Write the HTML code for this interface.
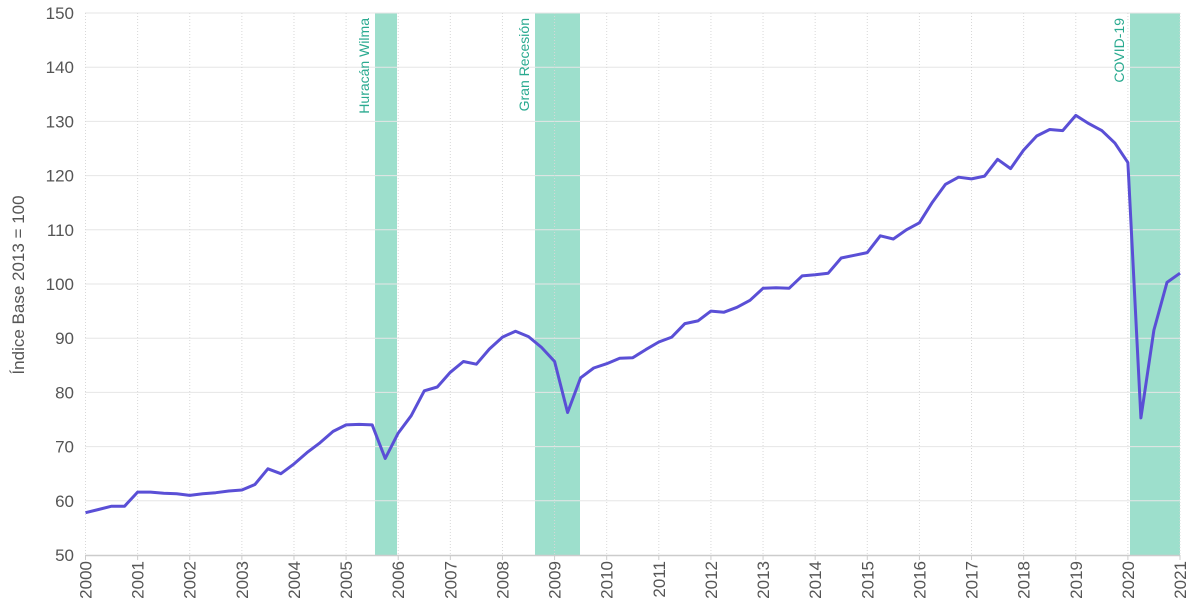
<!DOCTYPE html>
<html><head><meta charset="utf-8"><style>
html,body{margin:0;padding:0;background:#fff;width:1200px;height:616px;overflow:hidden}
svg text{font-family:"Liberation Sans",sans-serif}
</style></head><body>
<svg id="c" width="1200" height="616" xmlns="http://www.w3.org/2000/svg"></svg>
<script>
const s=document.getElementById('c');
const X=y=>85.5+(1180-85.5)*(y-2000)/21, Y=v=>555-(v-50)*5.42;
let h='';
[[375,397],[535,580],[1130,1180]].forEach(b=>h+=`<rect x="${b[0]}" y="13" width="${b[1]-b[0]}" height="542" fill="#9ddfcc"/>`);
for(let v=60;v<=150;v+=10)h+=`<line x1="85" x2="1180" y1="${Y(v)}" y2="${Y(v)}" stroke="#e6e6e6"/>`;
for(let yr=2000;yr<=2021;yr++)h+=`<line x1="${X(yr)}" x2="${X(yr)}" y1="13" y2="555" stroke="#d8d8d8" stroke-dasharray="1,2"/>`;
h+=`<line x1="85" x2="1180" y1="555.5" y2="555.5" stroke="#ccc" stroke-width="1.5"/>`;
for(let v=50;v<=150;v+=10)h+=`<text x="74" y="${Y(v)+6}" text-anchor="end" font-size="17" fill="#555">${v}</text>`;
for(let yr=2000;yr<=2021;yr++){const x=X(yr);h+=`<text transform="translate(${x+6},561) rotate(-90)" text-anchor="end" font-size="17" fill="#555">${yr}</text><line x1="${x}" x2="${x}" y1="555" y2="560" stroke="#ccc"/>`;}
h+=`<text transform="translate(24,285) rotate(-90)" text-anchor="middle" font-size="17" fill="#555">Índice Base 2013 = 100</text>`;
[["Huracán Wilma",369],["Gran Recesión",529],["COVID-19",1124]].forEach(t=>h+=`<text transform="translate(${t[1]},18) rotate(-90)" text-anchor="end" font-size="14" fill="#2aaa90">${t[0]}</text>`);
const d=[57.8,58.4,59,59,61.6,61.6,61.4,61.3,61,61.3,61.5,61.8,62,63,65.9,65,66.8,68.9,70.7,72.8,74,74.1,74,67.8,72.5,75.7,80.3,81,83.7,85.7,85.2,88,90.2,91.3,90.3,88.3,85.7,76.3,82.7,84.5,85.3,86.3,86.4,87.9,89.3,90.2,92.7,93.2,95,94.8,95.7,97,99.2,99.3,99.2,101.5,101.7,102,104.8,105.3,105.8,108.9,108.3,110,111.3,115.1,118.4,119.7,119.4,119.9,123,121.3,124.7,127.3,128.5,128.3,131.1,129.6,128.3,126,122.4,75.3,91.5,100.3,102];
h+=`<polyline fill="none" stroke="#5a4fd6" stroke-width="3" stroke-linejoin="round" points="${d.map((v,i)=>X(2000+i/4).toFixed(1)+','+Y(v).toFixed(1)).join(' ')}"/>`;
s.innerHTML=h;
</script>
</body></html>
